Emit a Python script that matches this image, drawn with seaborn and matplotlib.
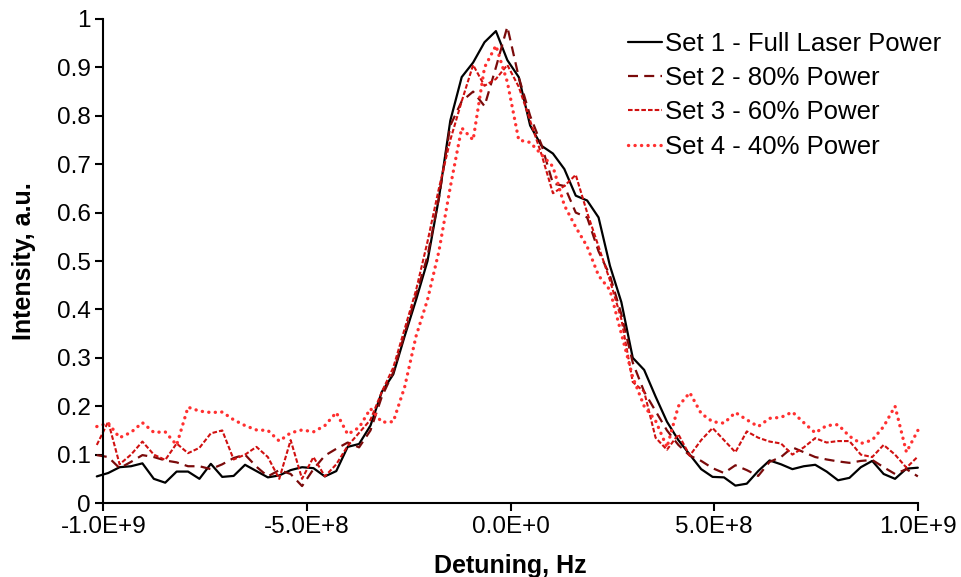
import numpy as np
import pandas as pd
import matplotlib
matplotlib.use("Agg")
import matplotlib.pyplot as plt
import seaborn as sns

# Detuning in units of 1e8 Hz
detuning_e8 = [-10.16, -9.88, -9.60, -9.32, -9.04, -8.76, -8.48, -8.20, -7.92, -7.64,
               -7.36, -7.08, -6.80, -6.52, -6.24, -5.96, -5.68, -5.40, -5.12, -4.84,
               -4.56, -4.28, -4.00, -3.72, -3.44, -3.16, -2.88, -2.60, -2.32, -2.04,
               -1.76, -1.48, -1.20, -0.92, -0.64, -0.36, -0.08, 0.20, 0.48, 0.76,
               1.04, 1.32, 1.60, 1.88, 2.16, 2.44, 2.72, 3.00, 3.28, 3.56,
               3.84, 4.12, 4.40, 4.68, 4.96, 5.24, 5.52, 5.80, 6.08, 6.36,
               6.64, 6.92, 7.20, 7.48, 7.76, 8.04, 8.32, 8.60, 8.88, 9.16,
               9.44, 9.72, 10.00]

set1 = [0.055, 0.062, 0.074, 0.076, 0.082, 0.050, 0.042, 0.065, 0.065, 0.050,
        0.081, 0.054, 0.056, 0.079, 0.066, 0.053, 0.057, 0.068, 0.074, 0.072,
        0.055, 0.066, 0.116, 0.122, 0.160, 0.230, 0.266, 0.345, 0.420, 0.500,
        0.630, 0.790, 0.880, 0.910, 0.952, 0.975, 0.915, 0.880, 0.780, 0.738,
        0.722, 0.690, 0.635, 0.625, 0.590, 0.490, 0.415, 0.300, 0.275, 0.220,
        0.168, 0.130, 0.100, 0.070, 0.054, 0.053, 0.036, 0.040, 0.066, 0.088,
        0.080, 0.070, 0.076, 0.079, 0.065, 0.047, 0.052, 0.074, 0.087, 0.060,
        0.050, 0.071, 0.073]

set2 = [0.099, 0.095, 0.072, 0.085, 0.099, 0.095, 0.088, 0.084, 0.076, 0.076,
        0.070, 0.080, 0.093, 0.100, 0.075, 0.055, 0.068, 0.060, 0.035, 0.070,
        0.098, 0.112, 0.125, 0.115, 0.150, 0.220, 0.270, 0.350, 0.430, 0.510,
        0.630, 0.780, 0.830, 0.850, 0.820, 0.900, 0.984, 0.880, 0.800, 0.740,
        0.660, 0.655, 0.600, 0.590, 0.520, 0.470, 0.390, 0.290, 0.230, 0.190,
        0.150, 0.120, 0.098, 0.087, 0.072, 0.062, 0.078, 0.068, 0.056, 0.085,
        0.095, 0.115, 0.105, 0.095, 0.090, 0.086, 0.083, 0.087, 0.089, 0.074,
        0.060, 0.070, 0.055]

set3 = [0.120, 0.168, 0.080, 0.100, 0.127, 0.100, 0.089, 0.123, 0.103, 0.114,
        0.144, 0.150, 0.090, 0.100, 0.116, 0.095, 0.050, 0.130, 0.050, 0.095,
        0.055, 0.080, 0.118, 0.145, 0.172, 0.230, 0.280, 0.360, 0.440, 0.540,
        0.650, 0.750, 0.830, 0.905, 0.862, 0.876, 0.905, 0.860, 0.790, 0.720,
        0.640, 0.655, 0.678, 0.600, 0.530, 0.460, 0.380, 0.250, 0.230, 0.135,
        0.110, 0.142, 0.098, 0.130, 0.155, 0.130, 0.105, 0.148, 0.135, 0.127,
        0.123, 0.100, 0.115, 0.134, 0.125, 0.128, 0.128, 0.100, 0.095, 0.120,
        0.100, 0.073, 0.096]

set4 = [0.158, 0.165, 0.135, 0.146, 0.166, 0.146, 0.147, 0.120, 0.198, 0.190,
        0.187, 0.188, 0.172, 0.160, 0.151, 0.150, 0.128, 0.145, 0.151, 0.147,
        0.160, 0.187, 0.142, 0.156, 0.195, 0.167, 0.168, 0.240, 0.345, 0.420,
        0.520, 0.653, 0.775, 0.750, 0.900, 0.945, 0.870, 0.750, 0.745, 0.720,
        0.695, 0.615, 0.570, 0.530, 0.470, 0.440, 0.350, 0.260, 0.200, 0.170,
        0.115, 0.200, 0.228, 0.185, 0.168, 0.165, 0.187, 0.172, 0.158, 0.175,
        0.177, 0.188, 0.166, 0.145, 0.160, 0.162, 0.138, 0.123, 0.130, 0.158,
        0.200, 0.105, 0.150]

series_names = ["Set 1 - Full Laser Power", "Set 2 - 80% Power",
                "Set 3 - 60% Power", "Set 4 - 40% Power"]
x_ticks = [-1.0e9, -5.0e8, 0.0, 5.0e8, 1.0e9]
x_tick_labels = ["-1.0E+9", "-5.0E+8", "0.0E+0", "5.0E+8", "1.0E+9"]
y_ticks = [0, 0.1, 0.2, 0.3, 0.4, 0.5, 0.6, 0.7, 0.8, 0.9, 1]
y_tick_labels = ["0", "0.1", "0.2", "0.3", "0.4", "0.5", "0.6", "0.7", "0.8", "0.9", "1"]

sns.set_theme(style="white")
plt.rcParams["font.family"] = ["Liberation Sans", "DejaVu Sans"]

fig = plt.figure(figsize=(9.62, 5.77), dpi=100)
ax = fig.add_axes([0.1074, 0.1282, 0.8467, 0.8389])

x_hz = np.array(detuning_e8) * 1e8
styles = [
    dict(color="#000000", linestyle="-", linewidth=1.6),
    dict(color="#7a0a0a", linestyle=(0, (4.5, 2.8)), linewidth=1.6),
    dict(color="#d01010", linestyle=(0, (2.2, 1.0)), linewidth=1.5),
    dict(color="#ff3030", linestyle=(0, (0.05, 1.9)), linewidth=2.4,
         dash_capstyle="round"),
]
for vals, name, st in zip([set1, set2, set3, set4], series_names, styles):
    df = pd.DataFrame({"x": x_hz, "y": vals})
    sns.lineplot(data=df, x="x", y="y", ax=ax, label=name, sort=False,
                 estimator=None, clip_on=False, **st)

ax.set_xlim(-1e9, 1e9)
ax.set_ylim(0, 1)
ax.set_xticks(x_ticks)
ax.set_xticklabels(x_tick_labels)
ax.set_yticks(y_ticks)
ax.set_yticklabels(y_tick_labels)
ax.tick_params(axis="both", which="major", direction="out", length=6, width=1.5,
               color="black", labelsize=17.5, labelcolor="black",
               bottom=True, left=True)
ax.tick_params(axis="x", pad=3)
ax.tick_params(axis="y", pad=3)
for side in ["top", "right"]:
    ax.spines[side].set_visible(False)
for side in ["left", "bottom"]:
    ax.spines[side].set_color("black")
    ax.spines[side].set_linewidth(1.5)

ax.set_xlabel("Detuning, Hz", fontsize=18, fontweight="bold", labelpad=12,
              color="black")
ax.set_ylabel("Intensity, a.u.", fontsize=18, fontweight="bold", labelpad=15,
              color="black")

leg = ax.legend(loc="upper right", bbox_to_anchor=(1.044, 1.0), frameon=False,
                fontsize=18.5, handlelength=1.3, handletextpad=0.12,
                labelspacing=0.4, borderaxespad=0.1)
for t in leg.get_texts():
    t.set_color("black")

fig.savefig("out.png", dpi=100)
